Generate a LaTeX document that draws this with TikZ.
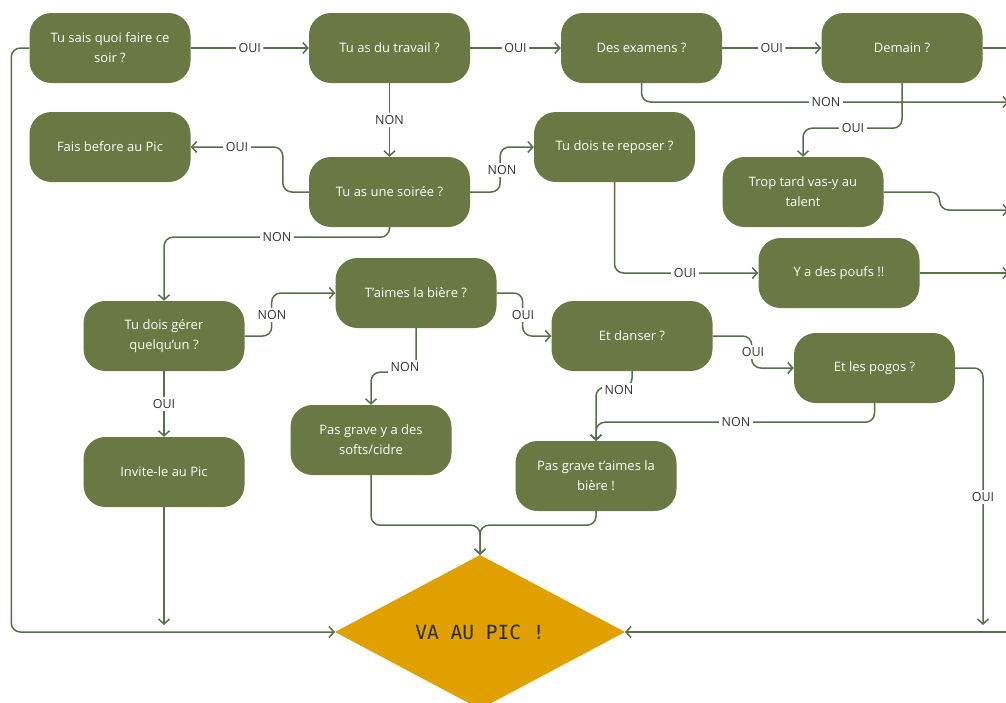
\documentclass[tikz,border=0pt]{standalone}
\usepackage{fontspec}
\setmainfont{Open Sans}
\newfontfamily\picmono{DejaVu Sans Mono}
\usetikzlibrary{arrows.meta,shapes.geometric}
\definecolor{boxgreen}{HTML}{6A7944}
\definecolor{linegreen}{HTML}{56704A}
\definecolor{picfill}{HTML}{E0A100}
\definecolor{pictext}{HTML}{2A2A1E}
\definecolor{lbl}{HTML}{333333}
\begin{document}
\begin{tikzpicture}[x=1pt,y=-1pt,
 box/.style={fill=boxgreen, rounded corners=22pt, minimum width=161pt, minimum height=70pt,
   align=center, text=white, font=\fontsize{13}{20}\selectfont, inner sep=0pt},
 conn/.style={draw=linegreen, line width=1.5pt, rounded corners=9pt},
 arr/.style={conn, -{Straight Barb[length=5pt,width=11pt]}},
 lab/.style={fill=white, text=lbl, font=\fontsize{12.5}{14}\selectfont, inner sep=2.5pt}]
\useasboundingbox (0,0) rectangle (1006,702);
\clip (0,0) rectangle (1006,702);
\fill[white] (0,0) rectangle (1006,702);

% nodes
\node[box] (n1) at (110,48) {Tu sais quoi faire ce\\soir ?};
\node[box] (n2) at (389.5,48) {Tu as du travail ?};
\node[box] (n3) at (641.5,48) {Des examens ?};
\node[box] (n4) at (902,48) {Demain ?};
\node[box] (n5) at (110,147) {Fais before au Pic};
\node[box] (n6) at (389.5,192) {Tu as une soirée ?};
\node[box] (n7) at (614.5,147) {Tu dois te reposer ?};
\node[box] (n8) at (803,192) {Trop tard vas-y au\\talent};
\node[box] (n9) at (839,273) {Y a des poufs !!};
\node[box] (n10) at (164,336) {Tu dois gérer\\quelqu’un ?};
\node[box] (n11) at (416,293) {T’aimes la bière ?};
\node[box] (n12) at (632,336) {Et danser ?};
\node[box] (n13) at (874.5,368) {Et les pogos ?};
\node[box] (n14) at (371,440) {Pas grave y a des\\softs/cidre};
\node[box] (n15) at (596,476) {Pas grave t’aimes la\\bière !};
\node[box] (n16) at (164,472) {Invite-le au Pic};
\node[diamond, fill=picfill, minimum width=290pt, minimum height=154pt, inner sep=0pt, outer sep=0pt,
  font=\picmono\fontsize{19.5}{20}\selectfont, text=pictext] (d) at (480,632) {VA AU PIC !};

% free ends
\coordinate (e1) at (1012,48);
\coordinate (e2) at (1009,102);
\coordinate (e3) at (1009,210);
\coordinate (e4) at (1009,273);
\coordinate (e5) at (983,625);
\coordinate (e6) at (1012,632);
\coordinate (e7) at (164,625);

% connectors
\draw[arr] (n1) -- node[lab] (l1) {OUI} (n2);
\draw[arr] (n2) -- node[lab] (l2) {OUI} (n3);
\draw[arr] (n3) -- node[lab] (l3) {OUI} (n4);
\draw[conn] (n4) -- (e1);
\draw[arr] (n3.south) |- (e2);
\draw[arr] (n4.south) -- ++(0,45) -| (n8.north);
\draw[arr] (n2) -- node[lab] (l6) {NON} (n6);
\draw[arr] (n6.west) -- ++(-26,0) |- (n5.east);
\draw[arr] (n6.east) -- ++(30,0) |- (n7.west);
\draw[arr] (n6.south) -- ++(0,10) -| (n10.north);
\draw[arr] (n7.south) |- (n9.west);
\draw[arr] (n8.east) -- ++(56,0) -- ++(0,18) -- (e3);
\draw[arr] (n9) -- (e4);
\draw[arr] (n10.east) -- ++(27,0) |- (n11.west);
\draw[arr] (n10) -- node[lab] (l12) {OUI} (n16);
\draw[arr] (n11.east) -- ++(26,0) |- (n12.west);
\draw[arr] (n11.south) -- ++(0,44) -| (n14.north);
\draw[arr] (n12.east) -- ++(39,0) |- (n13.west);
\draw[arr] (n12.south) -- ++(0,16) -| (n15.north);
\draw[arr] (n13.south) -- ++(0,19) -| (n15.north);
\draw[arr] (n13.east) -| (e5);
\draw[arr] (e6) -- (d.east);
\draw[arr] (n1.west) -- ++(-18,0) |- (d.west);
\draw[arr] (n16.south) -- (e7);
\draw[arr] (n14.south) -- ++(0,50) -| (d.north);
\draw[arr] (n15.south) -- ++(0,14) -| (d.north);

% labels on bent connectors
\node[lab] (l4) at (826,102) {NON};
\node[lab] (l5) at (853,128) {OUI};
\node[lab] (l7) at (237,147) {OUI};
\node[lab] (l8) at (502,170) {NON};
\node[lab] (l9) at (277,237) {NON};
\node[lab] (l10) at (685,273) {OUI};
\node[lab] (l11) at (272,315) {NON};
\node[lab] (l13) at (523,315) {OUI};
\node[lab] (l14) at (405,367) {NON};
\node[lab] (l15) at (753,352) {OUI};
\node[lab] (l16) at (619,390) {NON};
\node[lab] (l17) at (736,422) {NON};
\node[lab] (l18) at (983,497) {OUI};
\end{tikzpicture}
\end{document}
